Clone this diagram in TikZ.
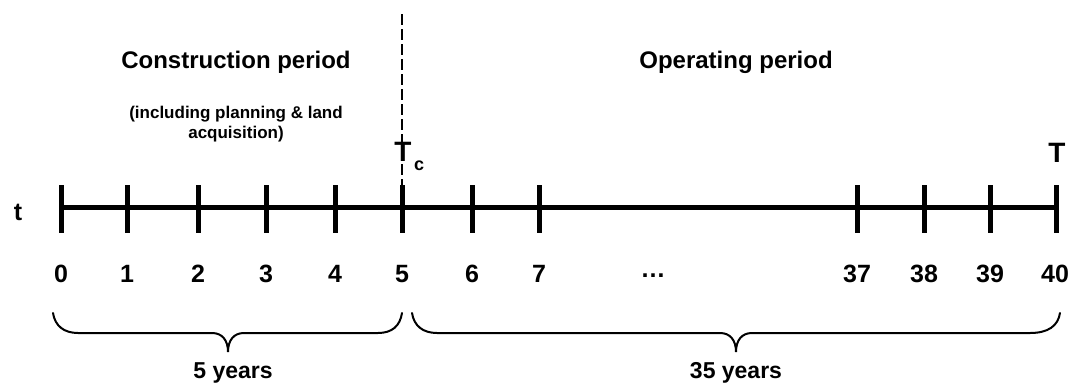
\documentclass[tikz,border=0pt]{standalone}
\usepackage{fontspec}
\setmainfont{Liberation Sans}
\begin{document}
\begin{tikzpicture}[x=1pt,y=-1pt,
  every node/.style={inner sep=0pt},
  title/.style={font=\fontsize{24}{28}\selectfont\bfseries, anchor=base},
  smalltext/.style={font=\fontsize{17}{20}\selectfont\bfseries, align=center, anchor=north},
  num/.style={font=\fontsize{25}{30}\selectfont\bfseries, anchor=base},
  bigT/.style={font=\fontsize{28}{32}\selectfont\bfseries, anchor=base},
  subc/.style={font=\fontsize{18}{20}\selectfont\bfseries, anchor=base},
  yearstext/.style={font=\fontsize{23}{28}\selectfont\bfseries, anchor=base},
  axisline/.style={line width=5pt},
  tickline/.style={line width=5pt},
  bracepath/.style={line width=2pt, line cap=round},
  dashline/.style={line width=1.6pt, dash pattern=on 11pt off 4pt}
]
\useasboundingbox (0,0) rectangle (1075,383);

% tick positions
\foreach \n/\x in {0/61,1/127,2/198,3/266,4/335,5/402,6/472,7/539,37/857,38/924,39/990,40/1056}{
  \coordinate (p\n) at (\x,207);
  \coordinate (top\n) at (\x,185);
  \coordinate (bot\n) at (\x,233);
}

% dashed separator
\coordinate (dtop) at (402,14);
\draw[dashline] (dtop) -- (top5);

% axis and ticks
\draw[axisline] (p0) -- (p40);
\foreach \n in {0,1,2,3,4,5,6,7,37,38,39,40}{
  \draw[tickline] (top\n) -- (bot\n);
}

% tick labels
\foreach \n/\x in {0/61,1/127,2/198,3/266,4/335,5/402,6/472,7/539,37/857,38/924,39/990,40/1055}{
  \node[num] (l\n) at (\x,282) {\n};
}
\node[num] (dots) at (653,277) {\char"2026};

% axis name
\node[num] (tlabel) at (18,220) {t};

% T markers
\node[bigT] (Tc) at (403,161) {T};
\node[subc] (csub) at (419,170) {c};
\node[bigT] (Tend) at (1057,162) {T};

% titles
\node[title] (constr) at (236,68) {Construction period};
\node[smalltext] (incl) at (236,106) {(including planning \& land\\acquisition)};
\node[title] (oper) at (736,68) {Operating period};

% braces
\draw[bracepath] (53,313) .. controls (55,326) and (64,333) .. (78,333)
  -- (212,333) .. controls (222,333) and (228,340) .. (228,352)
  .. controls (228,340) and (234,333) .. (244,333)
  -- (378,333) .. controls (392,333) and (400,326) .. (402,313);
\draw[bracepath] (412,313) .. controls (414,326) and (423,333) .. (437,333)
  -- (720,333) .. controls (730,333) and (736,340) .. (736,352)
  .. controls (736,340) and (742,333) .. (752,333)
  -- (1030,333) .. controls (1048,333) and (1058,326) .. (1060,313);

\node[yearstext] (y5) at (233,378) {5 years};
\node[yearstext] (y35) at (736,378) {35 years};
\end{tikzpicture}
\end{document}
